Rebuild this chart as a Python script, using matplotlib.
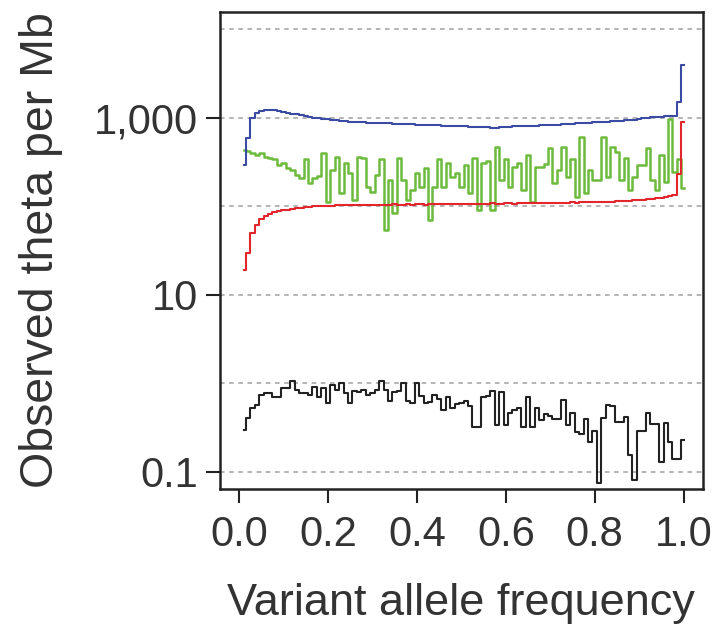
import matplotlib
matplotlib.use("Agg")
import matplotlib.pyplot as plt
import numpy as np

plt.rcParams['font.family'] = ['Liberation Sans', 'DejaVu Sans']

# Variant allele frequency bins (0.01 .. 1.00)
vaf = [round(0.01 * i, 2) for i in range(1, 101)]

blue = [295, 590, 1000, 1140, 1200, 1230, 1230, 1220, 1200, 1170,
        1150, 1120, 1100, 1080, 1050, 1030, 1010, 990, 975, 960,
        950, 940, 930, 920, 910, 900, 895, 890, 885, 880,
        875, 880, 870, 865, 860, 855, 850, 848, 845, 840,
        835, 832, 828, 825, 822, 818, 815, 812, 810, 805,
        800, 798, 795, 790, 785, 780, 775, 778, 782, 785,
        790, 800, 810, 805, 812, 815, 820, 825, 830, 835,
        835, 840, 848, 855, 860, 865, 872, 880, 885, 890,
        895, 900, 905, 912, 918, 925, 935, 945, 955, 970,
        985, 1000, 1030, 1035, 1030, 1040, 1045, 1050, 1500, 4000]

red = [19, 30, 50, 62, 72, 78, 83, 86, 88, 90,
       92, 94, 96, 97, 98, 99, 100, 100, 101, 102,
       102, 103, 103, 104, 103, 104, 104, 105, 104, 105,
       105, 104, 105, 105, 106, 105, 105, 106, 105, 106,
       106, 105, 106, 106, 107, 106, 106, 107, 106, 107,
       107, 106, 107, 107, 106, 107, 108, 107, 107, 108,
       108, 107, 108, 108, 109, 108, 109, 109, 108, 109,
       110, 109, 110, 110, 111, 110, 111, 111, 112, 111,
       112, 112, 113, 113, 114, 114, 115, 116, 117, 118,
       119, 121, 122, 124, 125, 127, 130, 135, 230, 900]

green = [430, 420, 400, 380, 400, 360, 355, 340, 295, 310,
         270, 257, 228, 210, 340, 185, 210, 220, 400, 112,
         257, 360, 142, 310, 240, 118, 360, 350, 166, 145,
         228, 340, 54, 200, 85, 355, 200, 118, 155, 240,
         166, 270, 70, 166, 340, 166, 310, 215, 240, 166,
         295, 142, 355, 91, 310, 330, 91, 470, 200, 340,
         166, 280, 310, 155, 380, 112, 280, 280, 300, 455,
         185, 257, 470, 215, 340, 128, 610, 142, 257, 200,
         200, 610, 215, 470, 415, 200, 355, 155, 215, 295,
         295, 455, 200, 155, 380, 190, 980, 245, 340, 160]

black = [0.30, 0.41, 0.53, 0.57, 0.74, 0.78, 0.78, 0.70, 0.70, 0.89,
         0.89, 1.07, 0.85, 0.78, 0.78, 0.74, 0.91, 0.70, 0.89, 0.60,
         0.96, 0.85, 1.00, 0.78, 0.60, 0.82, 0.80, 0.85, 0.74, 0.78,
         0.85, 1.07, 0.85, 0.63, 0.80, 0.82, 1.00, 0.63, 0.60, 1.00,
         0.72, 0.60, 0.62, 0.74, 0.66, 0.50, 0.70, 0.53, 0.58, 0.60,
         0.63, 0.55, 0.32, 0.32, 0.70, 0.72, 0.82, 0.34, 0.80, 0.34,
         0.46, 0.50, 0.53, 0.32, 0.70, 0.32, 0.53, 0.39, 0.45, 0.43,
         0.40, 0.40, 0.65, 0.34, 0.46, 0.28, 0.27, 0.40, 0.22, 0.29,
         0.075, 0.41, 0.57, 0.55, 0.37, 0.37, 0.42, 0.155, 0.081, 0.29,
         0.29, 0.46, 0.35, 0.35, 0.13, 0.36, 0.22, 0.14, 0.14, 0.23]

grid_levels = [0.1, 1, 10, 100, 1000, 10000]
ytick_vals = [0.1, 10, 1000]
ytick_labels = ["0.1", "10", "1,000"]
xtick_vals = [0.0, 0.2, 0.4, 0.6, 0.8, 1.0]
xtick_labels = ["0.0", "0.2", "0.4", "0.6", "0.8", "1.0"]

fig = plt.figure(figsize=(7.2, 6.26), dpi=100)
ax = fig.add_axes([0.3056, 0.219, 0.6704, 0.762])
ax.set_yscale('log')

for g in grid_levels:
    ax.axhline(g, color='#a0a0a0', linestyle=(0, (3, 3)), linewidth=1.1, zorder=0)

lw = 1.5
ax.step(vaf, green, where='mid', color='#6dbb3d', linewidth=lw + 0.3, zorder=2)
ax.step(vaf, blue, where='mid', color='#3b4ba3', linewidth=lw, zorder=3)
ax.step(vaf, red, where='mid', color='#e3262c', linewidth=lw, zorder=3)
ax.step(vaf, black, where='mid', color='#222222', linewidth=lw, zorder=3)

ax.set_xlim(-0.043, 1.043)
ax.set_ylim(10 ** -1.192, 10 ** 4.198)

ax.set_yticks(ytick_vals)
ax.set_yticklabels(ytick_labels)
ax.yaxis.set_minor_locator(matplotlib.ticker.NullLocator())
ax.set_xticks(xtick_vals)
ax.set_xticklabels(xtick_labels)

for s in ax.spines.values():
    s.set_linewidth(1.8)
    s.set_color('#222222')

ax.tick_params(axis='both', which='major', direction='out', length=10, width=1.5,
               color='#222222', labelsize=30, labelcolor='#333333')
ax.tick_params(axis='x', pad=9)
ax.tick_params(axis='y', pad=6)

ax.set_xlabel("Variant allele frequency", fontsize=32.5, color='#333333', labelpad=20)
ax.set_ylabel("Observed theta per Mb", fontsize=33.5, color='#333333', labelpad=22)

fig.savefig("out.png", dpi=100)
